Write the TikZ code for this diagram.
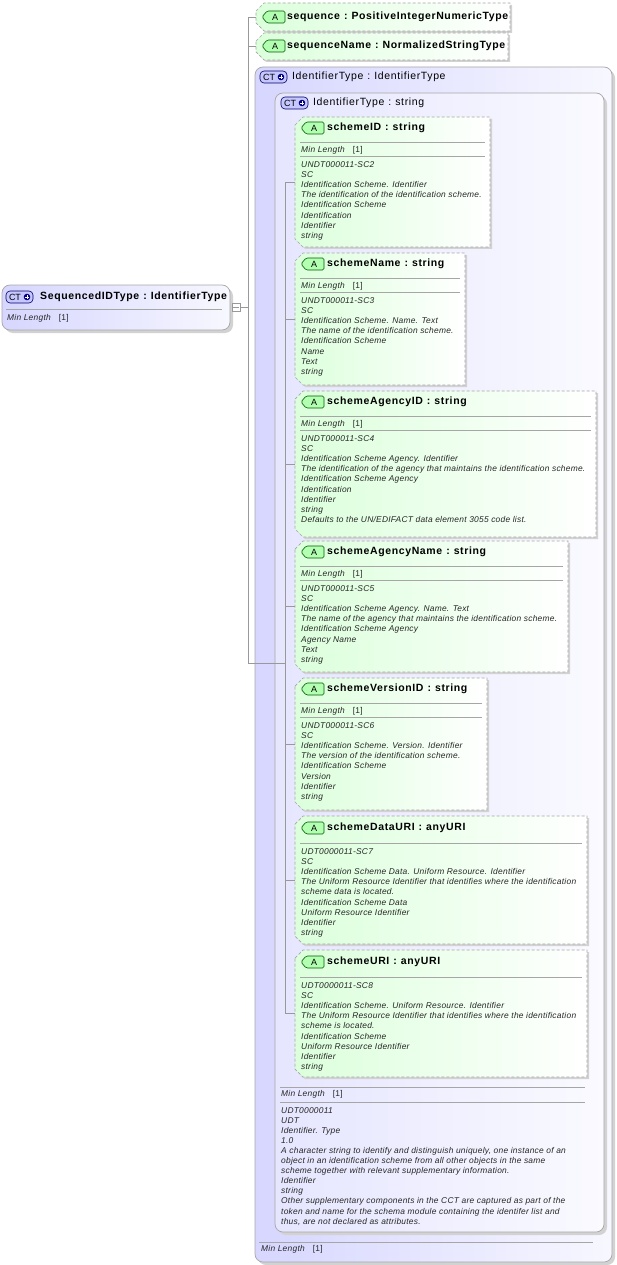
\documentclass[tikz,border=0pt]{standalone}
\usepackage{fontspec}
\setmainfont{Liberation Sans}
\newfontfamily\tfont[LetterSpace=6]{Liberation Sans}
\newfontfamily\ifont[LetterSpace=3]{Liberation Sans}
\newcommand\cl{\hspace{4pt}:\hspace{4pt}}
\begin{document}
\begin{tikzpicture}[x=1pt,y=-1pt,
  ttl/.style={font=\tfont\fontsize{10.5}{12}\selectfont\bfseries,anchor=west,inner sep=0},
  itx/.style={font=\ifont\fontsize{8.4}{10.1}\selectfont\itshape,anchor=north west,inner sep=0,align=left,text=black!85},
  conn/.style={draw=gray!80,line width=0.6pt},
  sep/.style={draw=gray!70,line width=0.6pt},
  abox/.style={shading=axis,left color=green!14,right color=white,shading angle=90,draw=gray!70,dash pattern=on 3pt off 2pt,line width=0.7pt},
  ctbox/.style={rounded corners=8pt,left color=blue!16,right color=blue!3,draw=gray!70,line width=0.7pt},
  shad/.style={fill=gray!35,draw=none}]
\useasboundingbox (0,0) rectangle (616,1265);
\newcommand\abadge[2]{%
  \draw[fill=green!30,draw=green!35!black,line width=0.6pt,rounded corners=1.5pt] (#1+9,#2-6)--(#1+27,#2-6)--(#1+27,#2+6)--(#1+9,#2+6)--(#1+4,#2)--cycle;
  \node[font=\fontsize{9}{10}\selectfont,inner sep=0] at (#1+17,#2) {A};}
\newcommand\ctbadge[2]{%
  \draw[fill=blue!22,draw=blue!40!black,line width=0.6pt,rounded corners=4pt] (#1,#2-6) rectangle (#1+27,#2+6);
  \node[font=\fontsize{9}{10}\selectfont,inner sep=0] at (#1+9,#2) {CT};
  \fill[blue!50!black] (#1+21,#2) circle (3.3pt);
  \draw[white,line width=0.9pt] (#1+18.8,#2)--(#1+23.2,#2) (#1+21,#2-2.2)--(#1+21,#2+2.2);}
\newcommand\attrshape[5]{%
  \fill[shad] (#2+2,#3+10)--(#2+10,#3+2)--(#4+2,#3+2)--(#4+2,#5+2)--(#2+10,#5+2)--(#2+2,#5-6)--cycle;
  \path[abox] (#2,#3+8)--(#2+8,#3)--(#4,#3)--(#4,#5)--(#2+8,#5)--(#2,#5-8)--cycle;
  \coordinate (#1) at (#2,{(#3+#5)/2});}
\newcommand\attrml[7]{%
  \attrshape{#1}{#2}{#3}{#4}{#5}
  \abadge{#2+2}{#3+11}
  \node[ttl] at (#2+32,#3+11) {#6};
  \draw[sep] (#2+5,#3+25)--(#4-5,#3+25);
  \node[itx,anchor=west] at (#2+6,#3+33) {Min Length\hspace{8pt}{\upshape[1]}};
  \draw[sep] (#2+5,#3+39)--(#4-5,#3+39);
  \node[itx] at (#2+6,#3+44.5) {#7};}
\newcommand\attrnoml[7]{%
  \attrshape{#1}{#2}{#3}{#4}{#5}
  \abadge{#2+2}{#3+12}
  \node[ttl] at (#2+32,#3+12) {#6};
  \draw[sep] (#2+5,#3+27)--(#4-5,#3+27);
  \node[itx] at (#2+6,#3+32.5) {#7};}

% outer CT boxes
\fill[shad,rounded corners=8pt] (258,70) rectangle (615,1265);
\path[ctbox] (255,67) rectangle (612,1262);
\fill[shad,rounded corners=8pt] (278,96) rectangle (607,1235);
\path[ctbox,left color=blue!10,right color=blue!2] (275,93) rectangle (604,1232);
\ctbadge{260}{77}
\node[ttl,font=\tfont\fontsize{10.5}{12}\selectfont] (it1) at (292,77) {IdentifierType\cl IdentifierType};
\ctbadge{281}{103}
\node[ttl,font=\tfont\fontsize{10.5}{12}\selectfont] (it2) at (313,103) {IdentifierType\cl string};

% left box
\fill[shad,rounded corners=8pt] (5,288) rectangle (233,333);
\path[ctbox] (2,285) rectangle (230,330);
\ctbadge{6}{297}
\node[ttl] (sq) at (40,297) {SequencedIDType\cl IdentifierType};
\draw[sep] (6,309)--(222,309);
\node[itx,anchor=west] at (7,318) {Min Length\hspace{8pt}{\upshape[1]}};

% top attributes
\attrshape{sa}{256}{3}{510}{31}
\abadge{258}{17}
\node[ttl] at (287,17) {sequence\cl PositiveIntegerNumericType};
\attrshape{sb}{256}{33}{508}{60}
\abadge{258}{46}
\node[ttl] at (287,46) {sequenceName\cl NormalizedStringType};

\attrml{a1}{295}{117}{490}{247}{schemeID\cl string}{UNDT000011-SC2\\SC\\Identification Scheme. Identifier\\The identification of the identification scheme.\\Identification Scheme\\Identification\\Identifier\\string}
\attrml{a2}{295}{253}{465}{385}{schemeName\cl string}{UNDT000011-SC3\\SC\\Identification Scheme. Name. Text\\The name of the identification scheme.\\Identification Scheme\\Name\\Text\\string}
\attrml{a3}{295}{391}{596}{537}{schemeAgencyID\cl string}{UNDT000011-SC4\\SC\\Identification Scheme Agency. Identifier\\The identification of the agency that maintains the identification scheme.\\Identification Scheme Agency\\Identification\\Identifier\\string\\Defaults to the UN/EDIFACT data element 3055 code list.}
\attrml{a4}{295}{541}{568}{672}{schemeAgencyName\cl string}{UNDT000011-SC5\\SC\\Identification Scheme Agency. Name. Text\\The name of the agency that maintains the identification scheme.\\Identification Scheme Agency\\Agency Name\\Text\\string}
\attrml{a5}{295}{678}{487}{810}{schemeVersionID\cl string}{UNDT000011-SC6\\SC\\Identification Scheme. Version. Identifier\\The version of the identification scheme.\\Identification Scheme\\Version\\Identifier\\string}
\attrnoml{a6}{295}{816}{587}{944}{schemeDataURI\cl anyURI}{UDT0000011-SC7\\SC\\Identification Scheme Data. Uniform Resource. Identifier\\The Uniform Resource Identifier that identifies where the identification\\scheme data is located.\\Identification Scheme Data\\Uniform Resource Identifier\\Identifier\\string}
\attrnoml{a7}{295}{950}{587}{1077}{schemeURI\cl anyURI}{UDT0000011-SC8\\SC\\Identification Scheme. Uniform Resource. Identifier\\The Uniform Resource Identifier that identifies where the identification\\scheme is located.\\Identification Scheme\\Uniform Resource Identifier\\Identifier\\string}

% footers
\draw[sep] (280,1087)--(585,1087);
\node[itx,anchor=west] at (281,1094) {Min Length\hspace{8pt}{\upshape[1]}};
\draw[sep] (280,1102)--(585,1102);
\node[itx] at (281,1107) {UDT0000011\\UDT\\Identifier. Type\\1.0\\A character string to identify and distinguish uniquely, one instance of an\\object in an identification scheme from all other objects in the same\\scheme together with relevant supplementary information.\\Identifier\\string\\Other supplementary components in the CCT are captured as part of the\\token and name for the schema module containing the identifer list and\\thus, are not declared as attributes.};
\draw[sep] (259,1242)--(593,1242);
\node[itx,anchor=west] at (261,1249) {Min Length\hspace{8pt}{\upshape[1]}};

% connectors
\node[draw=gray!80,fill=white,minimum size=8pt,inner sep=0,line width=0.6pt] (q) at (236,307) {};
\draw[gray!80,line width=0.5pt] (233,307)--(239,307);
\coordinate (j) at (248,307);
\coordinate (k) at (285,663);
\draw[conn] (q.east)--(j);
\draw[conn] (sa) -| (248,663) -- (k);
\draw[conn] (sb) -- (sb -| j);
\draw[conn] (a1) -| (k);
\draw[conn] (k) |- (a7);
\foreach \n in {a2,a3,a4,a5,a6} \draw[conn] (\n) -- (\n -| k);
\end{tikzpicture}
\end{document}
